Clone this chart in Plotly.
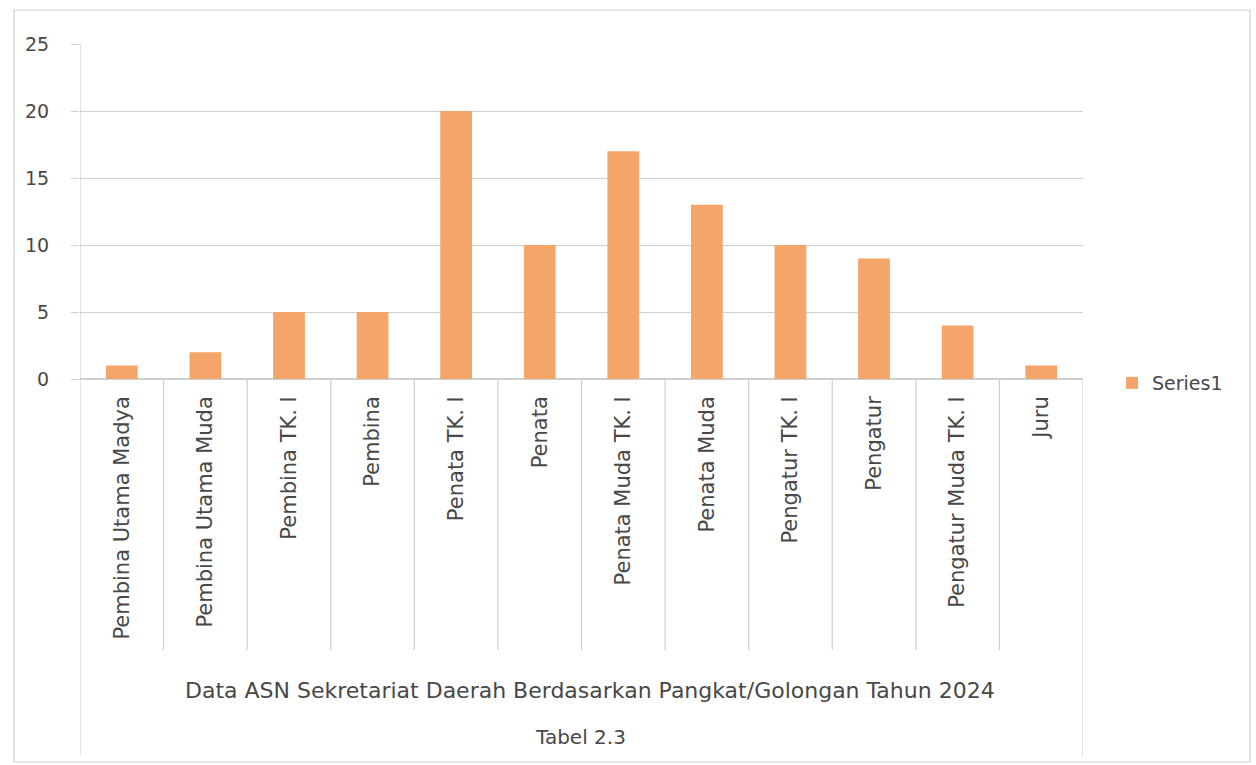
import plotly.graph_objects as go

categories = ["Pembina Utama Madya", "Pembina Utama Muda", "Pembina TK. I", "Pembina",
              "Penata TK. I", "Penata", "Penata Muda TK. I", "Penata Muda",
              "Pengatur TK. I", "Pengatur", "Pengatur Muda TK. I", "Juru"]
values = [1, 2, 5, 5, 20, 10, 17, 13, 10, 9, 4, 1]
series_name = "Series1"
y_ticks = [0, 5, 10, 15, 20, 25]
axis_title = "Data ASN Sekretariat Daerah Berdasarkan Pangkat/Golongan Tahun 2024"
sub_title = "Tabel 2.3"

FONT = "DejaVu Sans"
TXT = "#484848"
GRID = "#cfcfcf"
BAR = "#f4a66a"

fig = go.Figure()
fig.add_trace(go.Bar(x=categories, y=values, name=series_name,
                     marker=dict(color=BAR, line=dict(width=0))))

# plot area geometry (px)
L, R, T, B = 80, 1083, 44, 379
W, H = 1256, 765
ph = B - T
pw = R - L

def py(ypx):
    return (B - ypx) / ph

def px(xpx):
    return (xpx - L) / pw

shapes = []
n = len(categories)
# category dividers
for i in range(1, n):
    shapes.append(dict(type="line", xref="x", yref="y domain", x0=i - 0.5, x1=i - 0.5,
                       y0=0, y1=py(650), line=dict(color=GRID, width=1.2)))
# outer group boundaries
shapes.append(dict(type="line", xref="x", yref="y domain", x0=-0.5, x1=-0.5,
                   y0=1, y1=py(755), line=dict(color=GRID, width=1.2)))
shapes.append(dict(type="line", xref="x", yref="y domain", x0=n - 0.5, x1=n - 0.5,
                   y0=0, y1=py(755), line=dict(color=GRID, width=1.2)))
# chart border
shapes.append(dict(type="rect", xref="paper", yref="paper", x0=px(14), x1=px(1250),
                   y0=py(762), y1=py(10), line=dict(color="#d0d0d0", width=1.2),
                   layer="below"))

annotations = [
    dict(text=axis_title, xref="paper", yref="paper", x=px(590), y=py(690),
         showarrow=False, font=dict(family=FONT, size=22, color=TXT),
         xanchor="center", yanchor="middle"),
    dict(text=sub_title, xref="paper", yref="paper", x=px(580), y=py(737),
         showarrow=False, font=dict(family=FONT, size=20, color=TXT),
         xanchor="center", yanchor="middle"),
]

fig.update_layout(
    width=W, height=H,
    margin=dict(l=L, r=W - R, t=T, b=H - B, pad=0),
    paper_bgcolor="white", plot_bgcolor="white",
    bargap=0.62,
    showlegend=True,
    legend=dict(x=px(1112), y=py(383), xanchor="left", yanchor="middle",
                font=dict(family=FONT, size=19, color=TXT), itemwidth=30,
                bgcolor="rgba(0,0,0,0)"),
    shapes=shapes,
    annotations=annotations,
    xaxis=dict(type="category", range=[-0.5, n - 0.5], tickangle=-90,
               tickfont=dict(family=FONT, size=21, color=TXT),
               showgrid=False, ticks="", showline=False, zeroline=False,
               ticklabelstandoff=12),
    yaxis=dict(range=[0, 25], tickvals=y_ticks, showgrid=True, gridcolor=GRID,
               gridwidth=1.2, ticks="outside", ticklen=8, tickcolor=GRID,
               tickfont=dict(family=FONT, size=19, color=TXT),
               zeroline=True, zerolinecolor=GRID, zerolinewidth=1.5,
               showline=False, ticklabelstandoff=18),
)

fig.write_html("out.html", config={"displayModeBar": False},
               post_script="document.body.style.margin='0px';")
